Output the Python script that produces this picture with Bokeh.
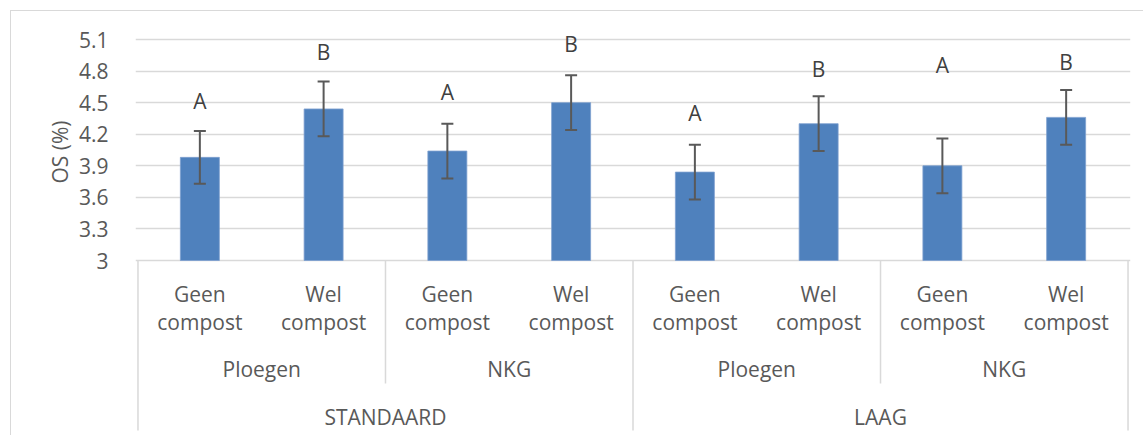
from bokeh.plotting import figure
from bokeh.models import Range1d, FixedTicker, ColumnDataSource, Whisker, TeeHead, Title
from bokeh.core.properties import value
from bokeh.embed import file_html
from bokeh.resources import INLINE

# ---------------- data ----------------
levels = ["STANDAARD", "LAAG"]
tillage = ["Ploegen", "NKG"]
compost = ["Geen compost", "Wel compost"]
os_values = [3.98, 4.44, 4.04, 4.50, 3.84, 4.30, 3.90, 4.36]
os_errors = [0.25, 0.26, 0.26, 0.26, 0.26, 0.26, 0.26, 0.26]
letters = ["A", "B", "A", "B", "A", "B", "A", "B"]
letter_y = [4.52, 4.98, 4.60, 5.06, 4.40, 4.82, 4.86, 4.89]
y_ticks = [3, 3.3, 3.6, 3.9, 4.2, 4.5, 4.8, 5.1]
y_tick_labels = ["3", "3.3", "3.6", "3.9", "4.2", "4.5", "4.8", "5.1"]
y_label = "OS (%)"

# ---------------- layout ----------------
W, H = 1143, 435
FONT = "Open Sans"
FS = "21px"
TXT = "#595959"
GRID = "#d9d9d9"
BAR = "#4f81bd"

ymin, ymax = y_ticks[0], y_ticks[-1]
ppu = 221 / (ymax - ymin)          # pixels per y unit
y_end = ymax + 21 / ppu            # frame top 21px above top gridline
y_start = ymin - 175 / ppu         # frame reaches 175px below baseline


def ypix(dy):
    """data y located dy pixels below the baseline"""
    return ymin - dy / ppu


n = len(levels) * len(tillage) * len(compost)
pad = 0.02
p = figure(width=W, height=H, output_backend="svg", toolbar_location=None,
           x_range=Range1d(-pad, n + pad), y_range=Range1d(y_start, y_end),
           x_axis_location=None, min_border_left=135, min_border_right=13,
           min_border_top=18, min_border_bottom=0)
p.border_fill_color = None
p.background_fill_color = "white"
p.outline_line_color = None
p.styles = {"box-shadow": "inset 10px 10px 0 0 #ffffff, inset 11px 11px 0 0 #d9d9d9"}

# y axis
ax = p.yaxis[0]
ax.ticker = FixedTicker(ticks=y_ticks)
ax.major_label_overrides = {t: l for t, l in zip(y_ticks, y_tick_labels)}
ax.axis_line_color = None
ax.major_tick_line_color = None
ax.minor_tick_line_color = None
ax.major_label_standoff = 21
ax.major_label_text_font = FONT
ax.major_label_text_font_size = FS
ax.major_label_text_color = TXT
p.ygrid.ticker = FixedTicker(ticks=y_ticks)
p.ygrid.grid_line_color = GRID
p.ygrid.grid_line_width = 1.5
p.xgrid.grid_line_color = None

# y axis title (a side title so it can sit level with the plotted band)
yt = Title(text=y_label, align="right", offset=102, text_font=FONT,
           text_font_size=FS, text_font_style="normal", text_color=TXT, standoff=4)
p.add_layout(yt, "left")

# bars
xs = [i + 0.5 for i in range(n)]
src = ColumnDataSource(dict(
    x=xs, top=os_values,
    upper=[v + e for v, e in zip(os_values, os_errors)],
    lower=[v - e for v, e in zip(os_values, os_errors)],
    letter=letters, ly=letter_y))
p.vbar(x="x", top="top", bottom=ymin, width=0.315, source=src,
       fill_color=BAR, line_color="#7da0cf", line_width=0.8)

ecol = "#595959"
wh = Whisker(base="x", upper="upper", lower="lower", source=src,
             line_color=ecol, line_width=2, level="overlay",
             upper_head=TeeHead(size=12, line_color=ecol, line_width=2),
             lower_head=TeeHead(size=12, line_color=ecol, line_width=2))
p.add_layout(wh)

p.text(x="x", y="ly", text="letter", source=src, text_align="center",
       text_baseline="middle", text_font=value(FONT), text_font_size=FS,
       text_color="#404040")

# category table below the axis
c_top, c_bot, c_x = [], [], []
i = 0
for lv in levels:
    for tl in tillage:
        for cp in compost:
            a, b = cp.split(" ", 1)
            c_top.append(a)
            c_bot.append(b)
            c_x.append(i + 0.5)
            i += 1
tl_lab, tl_x = [], []
for li, lv in enumerate(levels):
    for ti, tl in enumerate(tillage):
        tl_lab.append(tl)
        tl_x.append(li * 4 + ti * 2 + 1)
lv_x = [li * 4 + 2 for li in range(len(levels))]

common = dict(text_align="center", text_baseline="middle",
              text_font=value(FONT), text_font_size=FS, text_color=TXT)
p.text(x=c_x, y=[ypix(33)] * n, text=c_top, **common)
p.text(x=c_x, y=[ypix(61.5)] * n, text=c_bot, **common)
p.text(x=tl_x, y=[ypix(108)] * len(tl_x), text=tl_lab, **common)
p.text(x=lv_x, y=[ypix(156)] * len(lv_x), text=levels, **common)

# separators
full_x = [li * 4 for li in range(len(levels) + 1)]
half_x = [li * 4 + 2 for li in range(len(levels))]
p.segment(x0=full_x, x1=full_x, y0=[ymin] * len(full_x), y1=[ypix(170)] * len(full_x),
          line_color=GRID, line_width=1.5)
p.segment(x0=half_x, x1=half_x, y0=[ymin] * len(half_x), y1=[ypix(123)] * len(half_x),
          line_color=GRID, line_width=1.5)

open("out.html", "w").write(file_html(p, INLINE))
